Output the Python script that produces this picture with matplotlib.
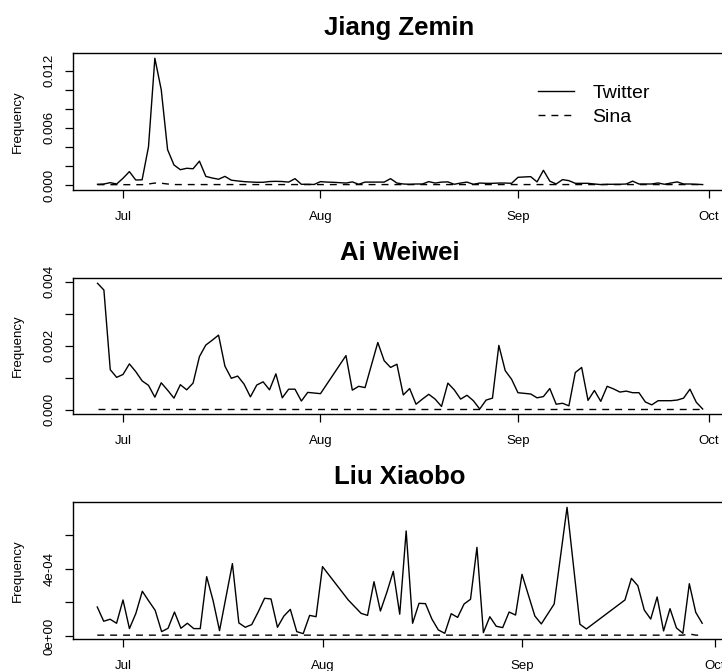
import numpy as np
import matplotlib
matplotlib.use('Agg')
import matplotlib.pyplot as plt

plt.rcParams['font.family'] = ['Liberation Sans', 'DejaVu Sans']
plt.rcParams['lines.scale_dashes'] = False

# x values are days counted from 1 Jul 2011
month_days = [0, 31, 62, 92]
month_labels = ['Jul', 'Aug', 'Sep', 'Oct']

# ---- Jiang Zemin ----
jiang_days = list(range(-4, 92))
jiang_twitter = [0.00007, 0.00010, 0.00024, 0.00010, 0.0007, 0.0014, 0.00052, 0.00054, 0.0040, 0.0133,
                 0.0100, 0.0037, 0.0021, 0.0016, 0.00175, 0.0017, 0.0025, 0.0009, 0.00073, 0.0006,
                 0.0009, 0.0005, 0.00042, 0.00035, 0.00031, 0.00028, 0.00028, 0.00036, 0.00038, 0.00036,
                 0.0003, 0.00066, 0.00007, 0.00007, 0.00005, 0.00035, 0.0003, 0.00028, 0.00024, 0.0002,
                 0.00032, 0.00007, 0.0003, 0.0003, 0.0003, 0.0003, 0.00066, 0.0002, 0.0001, 0.00007,
                 0.0001, 0.0001, 0.00035, 0.0002, 0.0003, 0.00032, 0.00007, 0.0002, 0.0003, 0.00007,
                 0.0002, 0.00017, 0.00017, 0.0002, 0.0002, 0.00017, 0.0008, 0.00084, 0.00087, 0.00032,
                 0.00154, 0.0004, 0.0001, 0.00056, 0.00045, 0.00017, 0.00017, 0.00017, 0.0001, 0.00004,
                 0.00007, 0.00007, 0.00007, 0.0001, 0.0004, 0.0001, 0.0001, 0.0001, 0.00021, 0.00007,
                 0.0002, 0.00032, 0.0001, 0.0001, 0.00007, 0.00004]
jiang_sina_days = [-4, 3, 4, 5, 6, 7, 8, 91]
jiang_sina = [0.00003, 0.00003, 0.0001, 0.0002, 0.00018, 0.0001, 0.00004, 0.00004]

# ---- Ai Weiwei ----
ai_days = list(range(-4, 32)) + [35, 36, 37, 38] + list(range(40, 92))
ai_twitter = [0.00395, 0.00374, 0.00125, 0.00101, 0.0011, 0.00143, 0.00119, 0.0009, 0.00076, 0.00039,
              0.00084, 0.00061, 0.00036, 0.00078, 0.00062, 0.00083, 0.00166, 0.00202, 0.00217, 0.00233,
              0.00136, 0.00098, 0.00105, 0.0008, 0.0004, 0.00077, 0.00087, 0.00062, 0.00112, 0.00037,
              0.00064, 0.00064, 0.00027, 0.00054, 0.00052, 0.0005,
              0.00169, 0.00061, 0.00073, 0.00069,
              0.0021, 0.00153, 0.00132, 0.00142, 0.00046, 0.00066, 0.00017, 0.00033, 0.00048, 0.00033,
              0.0001, 0.00083, 0.00062, 0.00033, 0.00045, 0.00028, 0.00002, 0.0003, 0.00036, 0.00201,
              0.00122, 0.00095, 0.00053, 0.00051, 0.00049, 0.00037, 0.00041, 0.00066, 0.00017, 0.0002,
              0.00012, 0.00116, 0.00132, 0.00029, 0.0006, 0.00026, 0.00073, 0.00065, 0.00055, 0.00058,
              0.00053, 0.00053, 0.00024, 0.00015, 0.00028, 0.00028, 0.00028, 0.0003, 0.00036, 0.00064,
              0.00023, 0.00002]
ai_sina_days = [-4, 91]
ai_sina = [0.00001, 0.00001]

# ---- Liu Xiaobo ----
liu_days = list(range(-4, 16)) + list(range(17, 32)) + [35, 37, 38, 39, 40, 41, 42, 43, 44, 45, 46, 47,
           48, 49, 50, 51, 52, 53, 54, 55, 56, 57, 58, 59, 60, 61, 62, 64, 65, 67, 69, 71, 72,
           78, 79, 80, 81, 82, 83, 84, 85, 86, 87, 88, 89, 90]
liu_twitter = [0.000173, 0.000088, 0.0001, 0.000076, 0.000215, 0.000044, 0.000135, 0.000267, 0.000209, 0.000153,
               0.000026, 0.000046, 0.000143, 0.000046, 0.000076, 0.000044, 0.000044, 0.000354, 0.000211, 0.000032,
               0.000432, 0.000078, 0.000052, 0.000068, 0.000143, 0.000225, 0.000221, 0.000052, 0.000119, 0.000159,
               0.000026, 0.000014, 0.000123, 0.000115, 0.000414,
               0.000215, 0.000135, 0.000123, 0.000324, 0.000149, 0.000261, 0.000386, 0.00013, 0.000627, 0.000076,
               0.000195, 0.000193, 0.000101, 0.000036, 0.000016, 0.000133, 0.000111, 0.000191, 0.000219, 0.000529,
               0.00002, 0.000115, 0.000058, 0.00005, 0.000143, 0.000125, 0.000368, 0.000119, 0.000072, 0.000191,
               0.000768, 0.00007, 0.000042,
               0.000215, 0.000344, 0.0003, 0.000155, 0.000101, 0.000233, 0.00003, 0.000163, 0.000048, 0.000016,
               0.000312, 0.000141, 0.000076]
liu_sina_days = [-4, 87, 88, 89, 90]
liu_sina = [0.000005, 0.000005, 0.000012, 0.000005, 0.000005]

panels = [
    ('Jiang Zemin', jiang_days, jiang_twitter, jiang_sina_days, jiang_sina,
     (-7.85, 94.66), (-0.00053, 0.01385),
     [0, 0.002, 0.004, 0.006, 0.008, 0.010, 0.012], ['0.000', '', '', '0.006', '', '', '0.012']),
    ('Ai Weiwei', ai_days, ai_twitter, ai_sina_days, ai_sina,
     (-7.85, 94.66), (-0.000145, 0.004125),
     [0, 0.001, 0.002, 0.003, 0.004], ['0.000', '', '0.002', '', '0.004']),
    ('Liu Xiaobo', liu_days, liu_twitter, liu_sina_days, liu_sina,
     (-7.77, 93.7), (-0.000018, 0.000798),
     [0, 0.0002, 0.0004, 0.0006], ['0e+00', '', '4e-04', '']),
]

W, H = 722, 671
fig = plt.figure(figsize=(W / 100, H / 100), dpi=100)

# box edges in pixels: left, right, top, bottom (right edge runs past the image, as in the original)
boxes = [(73, 726, 53, 190), (73, 726, 277.7, 414.3), (73, 726, 502.3, 639)]

dash = (0, (5.0, 4.3))
for (title, xd, tw, sd, sv, xl, yl, yt, ytl), (l, r, t, b) in zip(panels, boxes):
    ax = fig.add_axes([l / W, 1 - b / H, (r - l) / W, (b - t) / H])
    ax.plot(xd, tw, color='black', lw=1.0, label='Twitter')
    ax.plot(sd, sv, color='black', lw=1.0, linestyle=dash, label='Sina')
    ax.set_xlim(*xl)
    ax.set_ylim(*yl)
    ax.set_xticks(month_days)
    ax.set_xticklabels(month_labels)
    ax.set_yticks(yt)
    ax.set_yticklabels(ytl)
    ax.tick_params(axis='both', direction='out', length=5.8, width=0.9, labelsize=9.5)
    ax.tick_params(axis='x', pad=9)
    ax.tick_params(axis='y', pad=7)
    plt.setp(ax.get_yticklabels(), rotation=90, va='center')
    for s in ax.spines.values():
        s.set_linewidth(1.0)
    ax.set_title(title, fontsize=18.5, fontweight='bold', pad=13)
    fig.text(18 / W, 1 - (t + b) / 2 / H, 'Frequency', rotation=90,
             ha='center', va='center', fontsize=9.5)
    if title == 'Jiang Zemin':
        ax.legend(loc='upper left', bbox_to_anchor=(538 / W, 1 - 84 / H),
                  bbox_transform=fig.transFigure, frameon=False, fontsize=14,
                  borderpad=0, borderaxespad=0, handlelength=1.83,
                  handletextpad=0.97, labelspacing=0.36)

fig.savefig('out.png', dpi=100)
